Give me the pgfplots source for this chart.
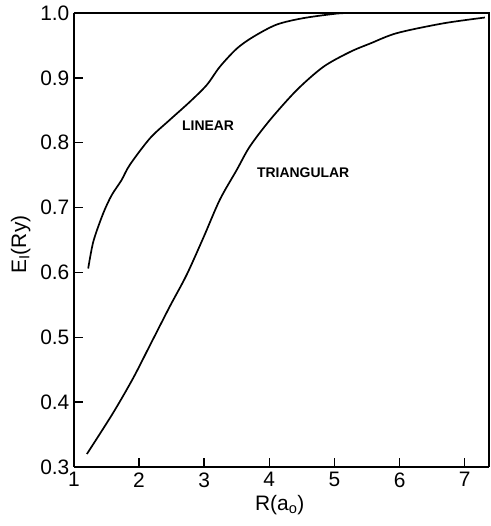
\documentclass[border=0pt]{standalone}
\usepackage{pgfplots}
\pgfplotsset{compat=1.18}
\usepackage{fontspec}
\setmainfont{Liberation Sans}

\begin{document}
\begin{tikzpicture}
\begin{axis}[
  scale only axis,
  width=415bp, height=454bp,
  xmin=1, xmax=7.37,
  ymin=0.3, ymax=1.0,
  xtick={1,2,3,4,5,6,7},
  ytick={0.3,0.4,0.5,0.6,0.7,0.8,0.9,1.0},
  yticklabel style={xshift=-1bp},
  y tick label style={/pgf/number format/fixed, /pgf/number format/fixed zerofill, /pgf/number format/precision=1},
  /pgf/number format/assume math mode=true,
  axis x line*=bottom, axis y line*=left,
  tick align=inside,
  major tick length=9bp,
  axis line style={line width=1.4bp, -},
  major tick style={draw=black, line width=1.4bp},
  ticklabel style={font=\fontsize{21}{23}\selectfont},
  xticklabel style={yshift=-2bp},
  xlabel={R(a\textsubscript{o})},
  ylabel={E$_{\mathrm{I}}$(Ry)},
  label style={font=\fontsize{21}{23}\selectfont},
  xlabel style={at={(axis description cs:0.496,-0.084)}, anchor=center},
  ylabel style={at={(axis description cs:-0.128,0.49)}, anchor=center},
  clip=false,
]
\path (rel axis cs:-0.178,-0.130) rectangle (rel axis cs:1.0048,1.0286);
% top and right frame, no ticks
\draw[line width=1.4bp] (rel axis cs:0,1) -- (rel axis cs:1,1) -- (rel axis cs:1,0);
% linear
\addplot[black, line width=1.7bp, smooth] coordinates {
  (1.22,0.606) (1.30,0.648) (1.45,0.691) (1.58,0.719) (1.73,0.742)
  (1.86,0.766) (2.17,0.807) (2.47,0.835) (2.78,0.863) (3.04,0.889)
  (3.24,0.917) (3.50,0.945) (3.75,0.963) (4.11,0.982) (4.52,0.992)
  (5.03,0.999) (5.25,1.0)
};
% triangular
\addplot[black, line width=1.7bp, smooth] coordinates {
  (1.20,0.320) (1.60,0.383) (1.91,0.437) (2.17,0.488) (2.47,0.547)
  (2.73,0.596) (2.99,0.654) (3.24,0.712) (3.50,0.758) (3.70,0.794)
  (4.01,0.835) (4.42,0.881) (4.83,0.917) (5.24,0.940) (5.55,0.953)
  (5.96,0.969) (6.67,0.984) (7.31,0.993)
};
\node[font=\bfseries\fontsize{14}{16}\selectfont] at (axis cs:3.06,0.826) {LINEAR};
\node[font=\bfseries\fontsize{14}{16}\selectfont] at (axis cs:4.52,0.753) {TRIANGULAR};
\end{axis}
\end{tikzpicture}
\end{document}
